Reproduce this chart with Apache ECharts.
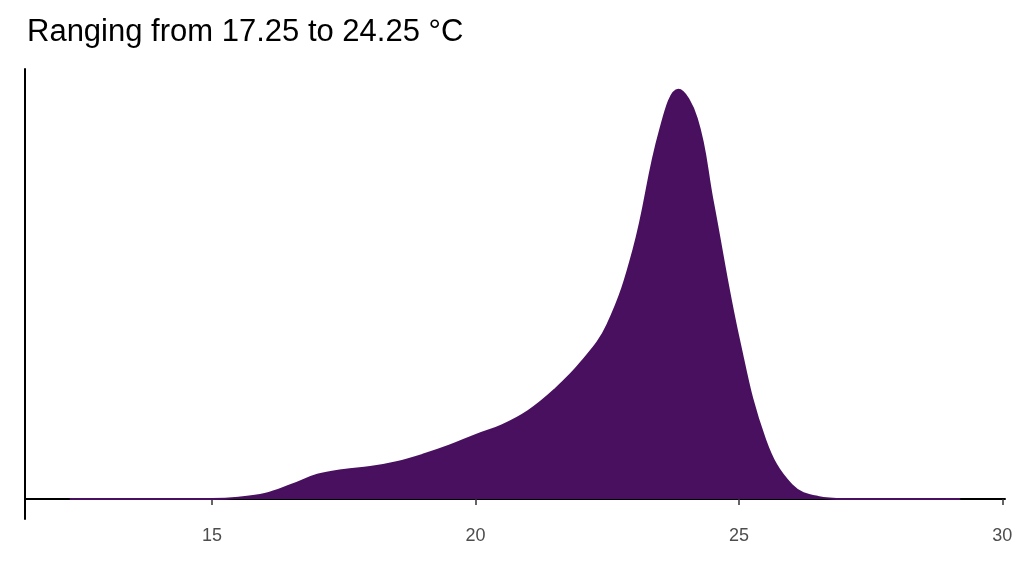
<!DOCTYPE html>
<html><head><meta charset="utf-8">
<script src="https://cdn.jsdelivr.net/npm/echarts@6/dist/echarts.min.js"></script>
<style>html,body{margin:0;padding:0;background:#fff}#c{width:1024px;height:576px}</style>
</head><body><div id="c"></div>
<script>
const temps = [12.3,15,15.5,16,16.5,17,17.5,18,18.5,19,19.5,20,20.5,21,21.5,22,22.5,23,23.5,23.85,24.2,24.5,25,25.5,26,26.5,27,29.2];
const density = [0,0,0.003,0.012,0.034,0.059,0.071,0.078,0.09,0.108,0.13,0.156,0.18,0.215,0.267,0.333,0.425,0.61,0.9,1.0,0.93,0.73,0.39,0.144,0.034,0.005,0,0];
const xTicks = [15,20,25,30];
const title = 'Ranging from 17.25 to 24.25 °C';
const col = '#48105f';
const chart = echarts.init(document.getElementById('c'));
chart.setOption({
  animation:false,
  title:{text:title,left:22,top:12,textStyle:{fontFamily:'Liberation Sans',fontSize:31,fontWeight:'normal',color:'#000'}},
  grid:{left:25,right:19,top:69,bottom:57},
  xAxis:{type:'value',min:11.45,max:30.05,
    axisLine:{lineStyle:{color:'#000',width:2}},
    axisTick:{customValues:xTicks,length:6,lineStyle:{color:'#333',width:1.5}},
    axisLabel:{customValues:xTicks,color:'#4d4d4d',fontSize:18,fontFamily:'Liberation Sans',margin:8},
    splitLine:{show:false}},
  yAxis:{type:'value',min:-0.049,max:1.051,
    axisLine:{show:true,lineStyle:{color:'#000',width:2}},
    axisTick:{show:false},axisLabel:{show:false},splitLine:{show:false}},
  series:[{type:'line',smooth:0.4,symbol:'none',
    data:temps.map((t,i)=>[t,density[i]]),
    lineStyle:{color:col,width:2},
    areaStyle:{color:col,opacity:1}}]
});
</script></body></html>
